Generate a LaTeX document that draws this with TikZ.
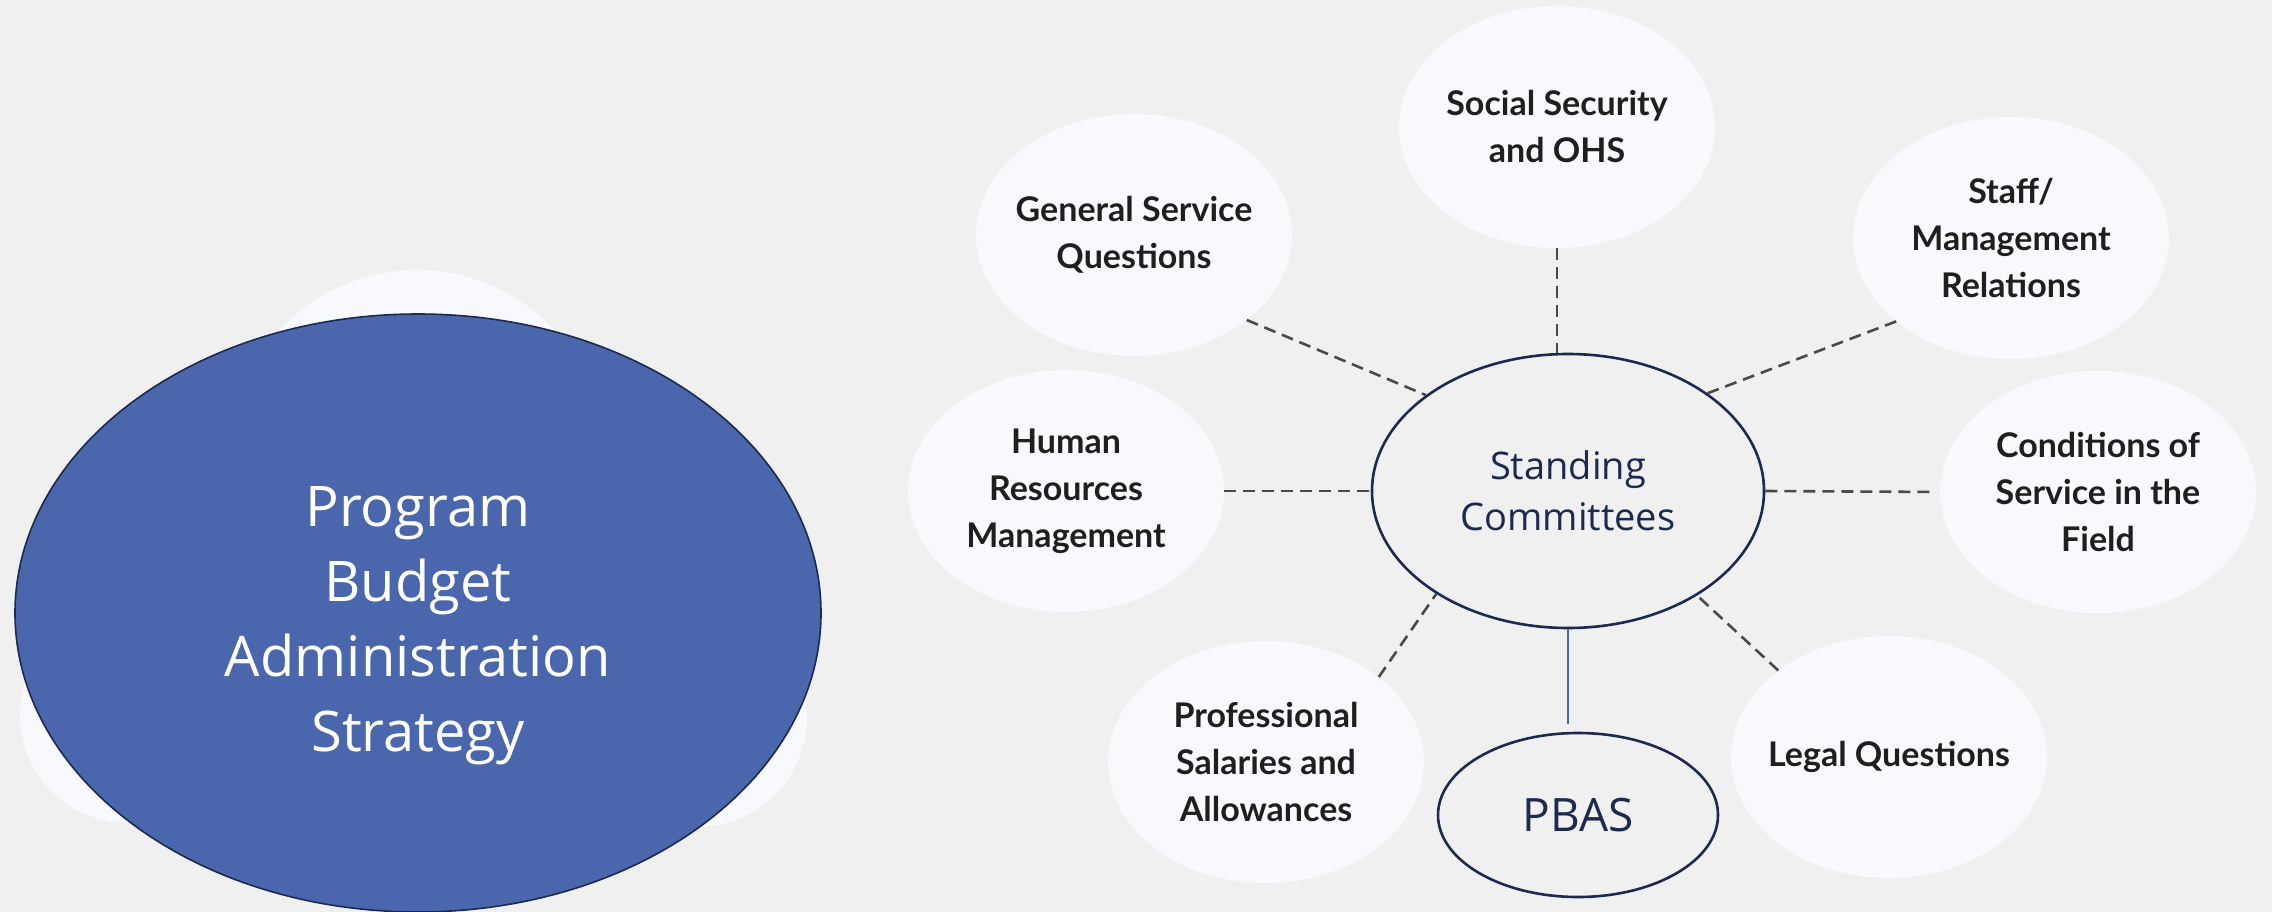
\documentclass[tikz,border=0pt]{standalone}
\usepackage{fontspec}
\setmainfont{Lato}
\newfontfamily\segoe{Open Sans}
\usetikzlibrary{shapes.geometric}
\definecolor{bg}{HTML}{F0F0F0}
\definecolor{sat}{HTML}{F8F9FC}
\definecolor{navy}{HTML}{1C2951}
\definecolor{pblue}{HTML}{4A66AC}
\definecolor{dashc}{HTML}{4A4A4A}
\begin{document}
\begin{tikzpicture}[x=1pt,y=-1pt,
  satnode/.style={ellipse, fill=sat, draw=none, minimum width=316pt, minimum height=242pt,
    inner sep=0pt, inner xsep=-30pt, align=center, text=black!88, font=\bfseries\fontsize{34}{47}\selectfont},
  hubnode/.style={ellipse, draw=navy, line width=2.6pt, fill=bg, inner sep=0pt, align=center,
    text=navy, font=\segoe\fontsize{38}{51}\selectfont},
  link/.style={draw=dashc, line width=2.6pt, dash pattern=on 12pt off 7pt},
  ghost/.style={circle, fill=sat, draw=none, inner sep=0pt}
]
\useasboundingbox (0,0) rectangle (2272,912);
\fill[bg] (0,0) rectangle (2272,912);
\clip (0,0) rectangle (2272,912);

% background circles behind the big ellipse
\node[ghost, minimum size=374pt] (g1) at (417,457) {};
\node[ghost, minimum size=216pt] (g2) at (128,715) {};
\node[ghost, minimum size=220pt] (g3) at (697,717) {};

% big blue ellipse
\node[ellipse, draw=navy, line width=1.6pt, fill=pblue, minimum width=806pt, minimum height=598pt,
  inner sep=0pt] (big) at (418,613) {};
\node[align=center, text=white, font=\segoe\fontsize{56}{75}\selectfont, inner sep=0pt]
  (bigtext) at (418,626) {Program\\Budget\\Administration\\Strategy};

% satellites
\node[satnode] (soc)   at (1557,127) {Social Security\\and OHS};
\node[satnode] (gen)   at (1134,235) {General Service\\Questions};
\node[satnode] (staff) at (2011,238) {Staff/\\Management\\Relations};
\node[satnode] (hr)    at (1066,491) {Human\\Resources\\Management};
\node[satnode] (cond)  at (2098,492) {Conditions of\\Service in the\\Field};
\node[satnode] (prof)  at (1266,762) {Professional\\Salaries and\\Allowances};
\node[satnode] (legal) at (1889,757) {Legal Questions};

% hub and PBAS
\node[hubnode, minimum width=392pt, minimum height=274pt] (sc) at (1568,491) {Standing\\Committees};
\node[hubnode, minimum width=280pt, minimum height=164pt, font=\segoe\fontsize{46}{56}\selectfont] (pbas) at (1578,815) {PBAS};

% connectors
\draw[link] (soc.south) -- (soc.south |- sc.north);
\draw[link] (gen.-37.5) -- (sc.146);
\draw[link] (staff.216.4) -- (sc.35);
\draw[link] (hr.east) -- (sc.west);
\draw[link, shorten >=9pt] (sc.east) -- (cond.west);
\draw[link] (prof.37.3) -- (sc.218);
\draw[link] (legal.142.5) -- (sc.321);
\draw[pblue, line width=1.3pt, shorten >=8pt] (sc.south) -- (sc.south |- pbas.north);
\end{tikzpicture}
\end{document}
